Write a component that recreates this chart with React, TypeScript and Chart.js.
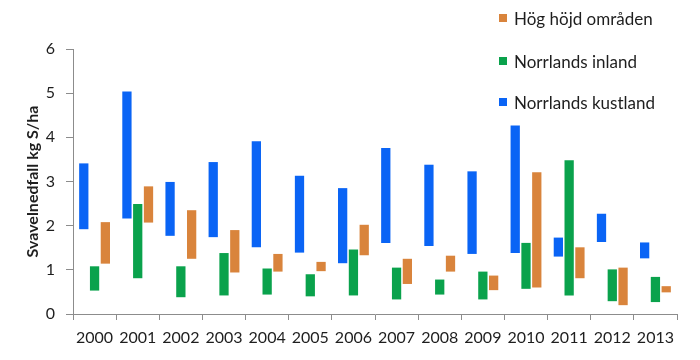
import React, { useEffect, useRef } from "react";
import { Chart, registerables } from "chart.js";

Chart.register(...registerables);

const years = ["2000", "2001", "2002", "2003", "2004", "2005", "2006", "2007", "2008", "2009", "2010", "2011", "2012", "2013"];

const kustlandLow = [1.92, 2.16, 1.77, 1.74, 1.51, 1.39, 1.15, 1.61, 1.54, 1.36, 1.38, 1.30, 1.63, 1.26];
const kustlandHigh = [3.41, 5.04, 2.99, 3.44, 3.91, 3.13, 2.85, 3.76, 3.38, 3.23, 4.27, 1.73, 2.27, 1.62];

const inlandLow = [0.53, 0.81, 0.38, 0.42, 0.44, 0.40, 0.42, 0.33, 0.44, 0.33, 0.57, 0.42, 0.29, 0.27];
const inlandHigh = [1.08, 2.49, 1.08, 1.38, 1.03, 0.90, 1.46, 1.05, 0.78, 0.96, 1.61, 3.48, 1.01, 0.84];

const hogLow = [1.14, 2.07, 1.25, 0.94, 0.96, 0.97, 1.33, 0.68, 0.96, 0.54, 0.60, 0.81, 0.20, 0.49];
const hogHigh = [2.08, 2.89, 2.35, 1.90, 1.36, 1.18, 2.02, 1.25, 1.32, 0.87, 3.21, 1.51, 1.05, 0.63];

const seriesNames = ["Norrlands kustland", "Norrlands inland", "Hög höjd områden"];
const seriesColors = ["#0a64f5", "#0aa24c", "#d9843c"];

const yTitle = "Svavelnedfall kg S/ha";
const FONT = "Lato";
const TEXT = "#1e1e1e";
const AXIS = "#8c8c8c";

function pairs(lo: number[], hi: number[]) {
  return lo.map((v, i) => [v, hi[i]]);
}

export default function App() {
  const ref = useRef<HTMLCanvasElement | null>(null);

  useEffect(() => {
    if (!ref.current) return;
    const lows = [kustlandLow, inlandLow, hogLow];
    const highs = [kustlandHigh, inlandHigh, hogHigh];
    const chart = new Chart(ref.current, {
      type: "bar",
      data: {
        labels: years,
        datasets: seriesNames.map((name, i) => ({
          label: name,
          data: pairs(lows[i], highs[i]) as any,
          backgroundColor: seriesColors[i],
          borderWidth: 0,
          categoryPercentage: 0.75,
          barPercentage: 0.86,
        })),
      },
      options: {
        animation: false,
        responsive: false,
        maintainAspectRatio: false,
        layout: { padding: { top: 49, right: 23, bottom: 0, left: 0 } },
        plugins: {
          legend: { display: false },
          tooltip: { enabled: false },
        },
        scales: {
          x: {
            grid: {
              display: true,
              drawOnChartArea: false,
              drawTicks: true,
              tickLength: 6,
              color: AXIS,
              offset: true,
            },
            border: { display: true, color: AXIS, width: 1 },
            ticks: {
              color: TEXT,
              font: { family: FONT, size: 16 },
              padding: 8,
              maxRotation: 0,
              autoSkip: false,
            },
            afterFit: (s: any) => {
              s.height = 46;
            },
          },
          y: {
            min: 0,
            max: 6,
            grid: {
              display: true,
              drawOnChartArea: false,
              drawTicks: true,
              tickLength: 7,
              color: AXIS,
            },
            border: { display: true, color: AXIS, width: 1 },
            ticks: {
              stepSize: 1,
              color: TEXT,
              font: { family: FONT, size: 16 },
              padding: 11,
            },
            title: {
              display: true,
              text: yTitle,
              color: TEXT,
              font: { family: FONT, size: 16, weight: "bold" },
              padding: { top: 23, bottom: 0 },
            },
            afterFit: (s: any) => {
              s.width = 73;
            },
          },
        },
      },
    });
    return () => chart.destroy();
  }, []);

  const legendOrder = [2, 1, 0];
  const legendTops = [18, 61, 102];

  return (
    <div style={{ position: "absolute", left: 0, top: 0, width: 700, height: 360, background: "#fff" }}>
      <canvas ref={ref} width={700} height={360} style={{ display: "block" }} />
      {legendOrder.map((idx, k) => (
        <div
          key={seriesNames[idx]}
          style={{
            position: "absolute",
            left: 499,
            top: legendTops[k] - 11,
            height: 22,
            display: "flex",
            alignItems: "center",
            fontFamily: FONT,
            fontSize: 17,
            color: TEXT,
            whiteSpace: "nowrap",
          }}
        >
          <span style={{ display: "inline-block", width: 8, height: 8, background: seriesColors[idx], marginRight: 7 }} />
          <span>{seriesNames[idx]}</span>
        </div>
      ))}
    </div>
  );
}
